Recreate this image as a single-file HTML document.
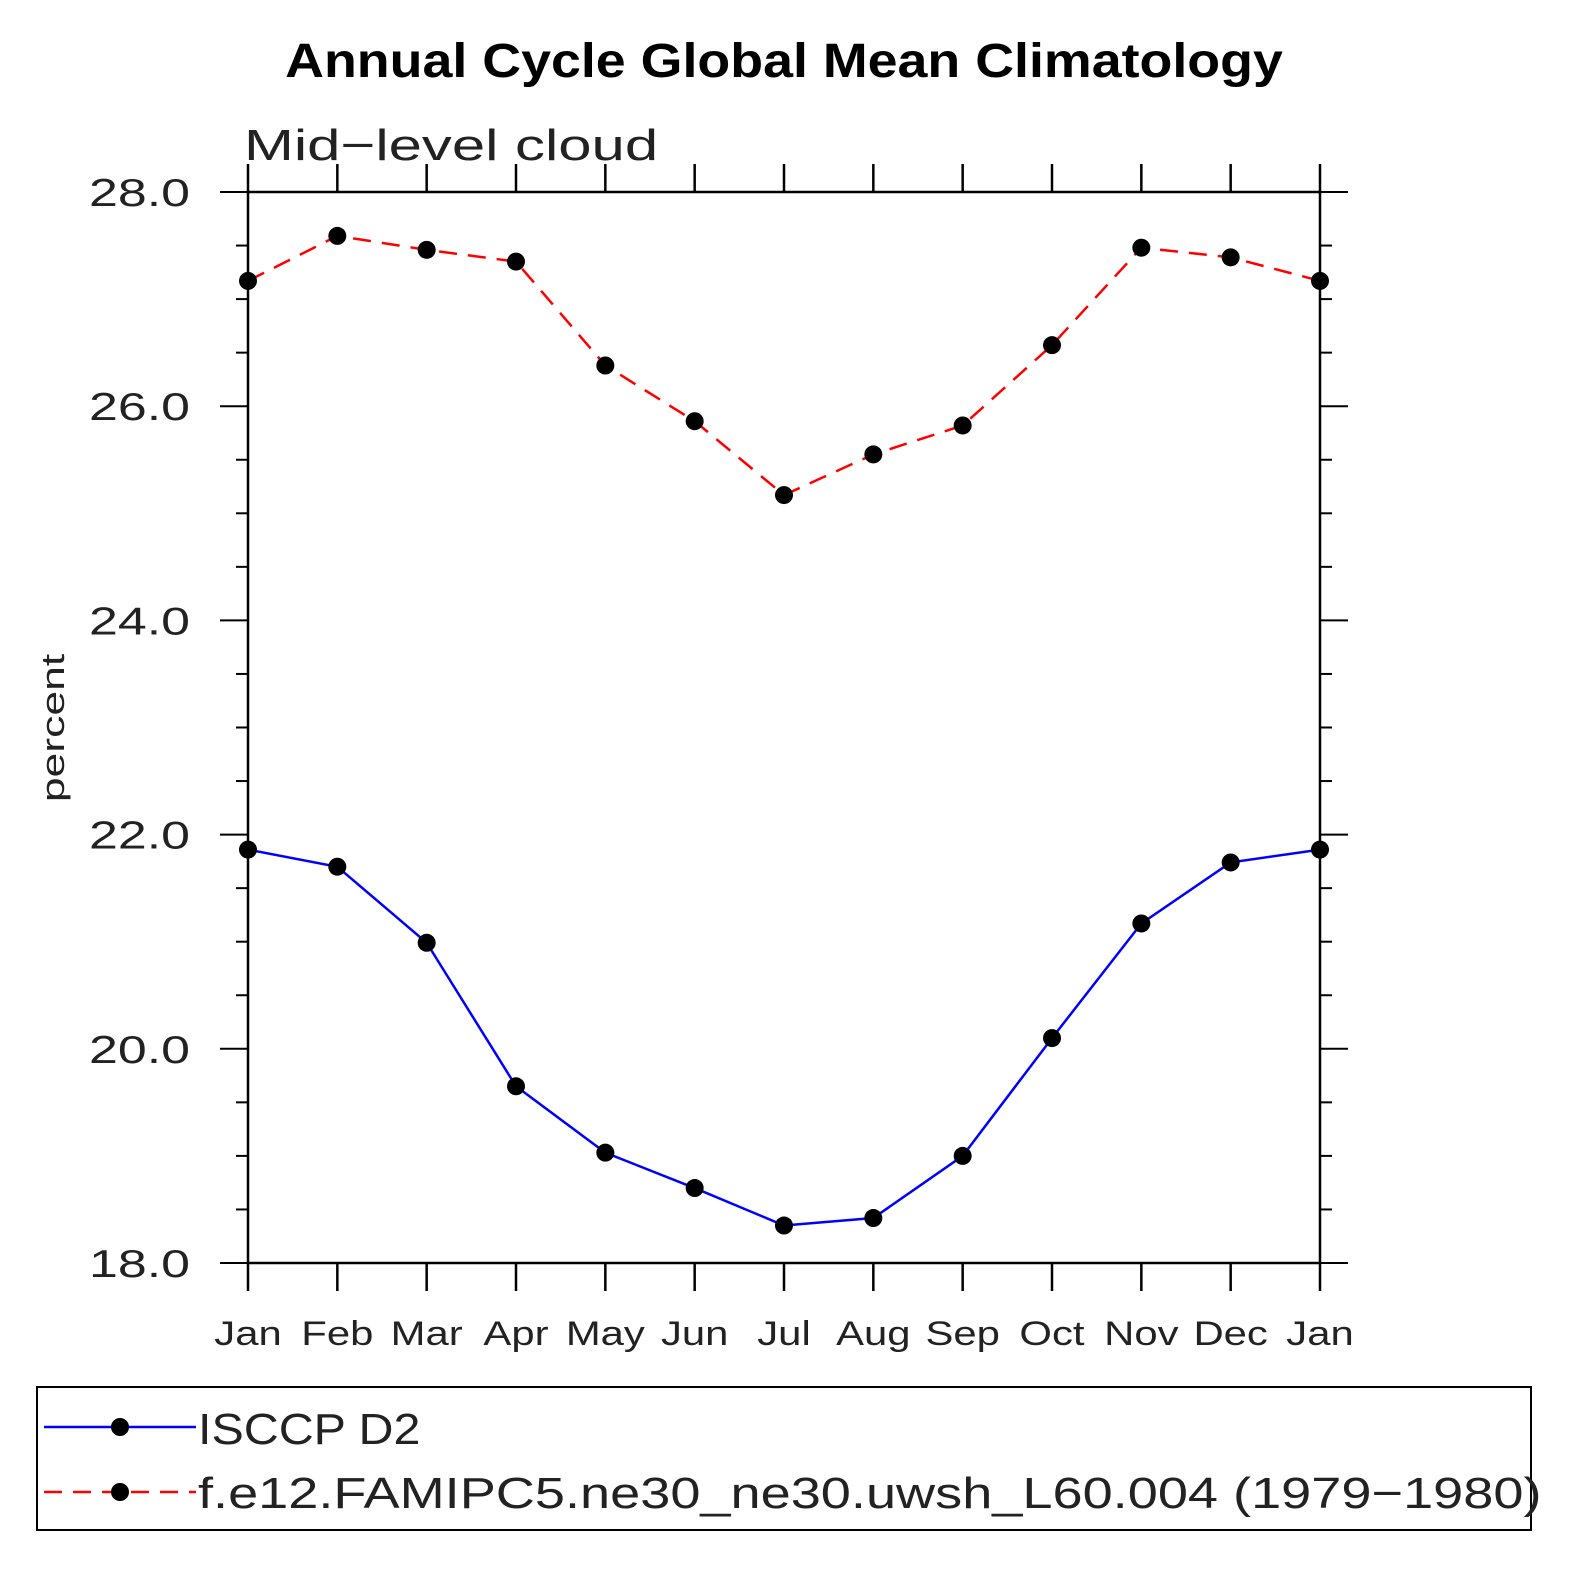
<!DOCTYPE html>
<html><head><meta charset="utf-8"><style>
html,body{margin:0;padding:0;background:#fff;}
svg{display:block;}
text{font-family:"Liberation Sans",sans-serif;}
</style></head><body>
<svg id="chart" width="1575" height="1575" viewBox="0 0 1575 1575">
<text x="784" y="77" text-anchor="middle" font-size="48" font-weight="bold" data-sx="1.12">Annual Cycle Global Mean Climatology</text>
<text x="244" y="160" font-size="44" fill="#222" data-sx="1.36">Mid−level cloud</text>
<text transform="translate(64,728) rotate(-90)" text-anchor="middle" font-size="32" fill="#222" data-sx="1.39">percent</text>
<g id="axes"></g>
<g id="series"></g>
<rect x="37" y="1387" width="1494" height="143" fill="none" stroke="#000" stroke-width="2"/>
<g>
<line x1="44" y1="1427" x2="196" y2="1427" stroke="#00f" stroke-width="2.5"/>
<circle cx="120" cy="1427" r="9"/>
<text x="198" y="1444" font-size="44" fill="#222" data-sx="1.1">ISCCP D2</text>
</g>
<g>
<line x1="44" y1="1492" x2="196" y2="1492" stroke="#f00" stroke-width="2.5" stroke-dasharray="18,11"/>
<circle cx="120" cy="1492" r="9"/>
<text x="198" y="1508" font-size="44" fill="#222" data-sx="1.23">f.e12.FAMIPC5.ne30_ne30.uwsh_L60.004 (1979−1980)</text>
</g>
</svg>
<script>
const months = ["Jan","Feb","Mar","Apr","May","Jun","Jul","Aug","Sep","Oct","Nov","Dec","Jan"];
const isccpValues = [21.86,21.70,20.99,19.65,19.03,18.70,18.35,18.42,19.00,20.10,21.17,21.74,21.86];
const modelValues = [27.17,27.59,27.46,27.35,26.38,25.86,25.17,25.55,25.82,26.57,27.48,27.39,27.17];
const yTicks = [18,20,22,24,26,28];
const yTickLabels = ["18.0","20.0","22.0","24.0","26.0","28.0"];
const yMin = 18, yMax = 28;

const NS = "http://www.w3.org/2000/svg";
const X0 = 248, X1 = 1320, Y0 = 1263, Y1 = 192;
const xs = i => X0 + (X1 - X0) * i / (months.length - 1);
const ys = v => Y0 - (v - yMin) / (yMax - yMin) * (Y0 - Y1);
const axes = document.getElementById('axes');
const series = document.getElementById('series');
function mk(tag, attrs, parent){const e=document.createElementNS(NS,tag);for(const k in attrs)e.setAttribute(k,attrs[k]);parent.appendChild(e);return e;}

const frame = mk('rect',{x:X0,y:Y1,width:X1-X0,height:Y0-Y1,fill:'none',stroke:'#000','stroke-width':2.5},axes);



months.forEach((m,i)=>{
  const x = xs(i);
  const t1 = mk('line',{x1:x,y1:Y1,x2:x,y2:Y1-28,stroke:'#000','stroke-width':2.5},axes);
  
  
  const t2 = mk('line',{x1:x,y1:Y0,x2:x,y2:Y0+28,stroke:'#000','stroke-width':2.5},axes);
  
  
  const lb = mk('text',{x:x,y:1345,'text-anchor':'middle','font-size':34,fill:'#222','data-sx':1.23},axes);
  lb.textContent = m;
  
  
});
for(let v=yMin; v<=yMax+1e-9; v+=0.5){
  const y = ys(v);
  const major = Math.abs(v - Math.round(v/2)*2) < 1e-9;
  const len = major ? 28 : 12;
  const a = mk('line',{x1:X0-len,y1:y,x2:X0,y2:y,stroke:'#000','stroke-width':2},axes);
  
  
  const b = mk('line',{x1:X1,y1:y,x2:X1+len,y2:y,stroke:'#000','stroke-width':2},axes);
  
  
}
yTicks.forEach((v,i)=>{
  const t = mk('text',{x:190,y:ys(v)+14,'text-anchor':'end','font-size':39,fill:'#222','data-sx':1.33},axes);
  t.textContent = yTickLabels[i];
  
  
});
function drawSeries(vals,color,dash,name){
  const pts = vals.map((v,i)=>xs(i)+','+ys(v)).join(' ');
  const pl = mk('polyline',{points:pts,fill:'none',stroke:color,'stroke-width':2.5},series);
  if(dash) pl.setAttribute('stroke-dasharray',dash);
  
  
  vals.forEach((v,i)=>{
    const c = mk('circle',{cx:xs(i),cy:ys(v),r:9,fill:'#000'},series);
    
    
  });
}
drawSeries(modelValues,'#f00','18,11','model');
drawSeries(isccpValues,'#00f',null,'isccp');
document.querySelectorAll('text[data-sx]').forEach(t=>{
  const w = t.getComputedTextLength()*parseFloat(t.getAttribute('data-sx'));
  t.setAttribute('textLength', w.toFixed(1));
  t.setAttribute('lengthAdjust','spacingAndGlyphs');
});
</script>
</body></html>
